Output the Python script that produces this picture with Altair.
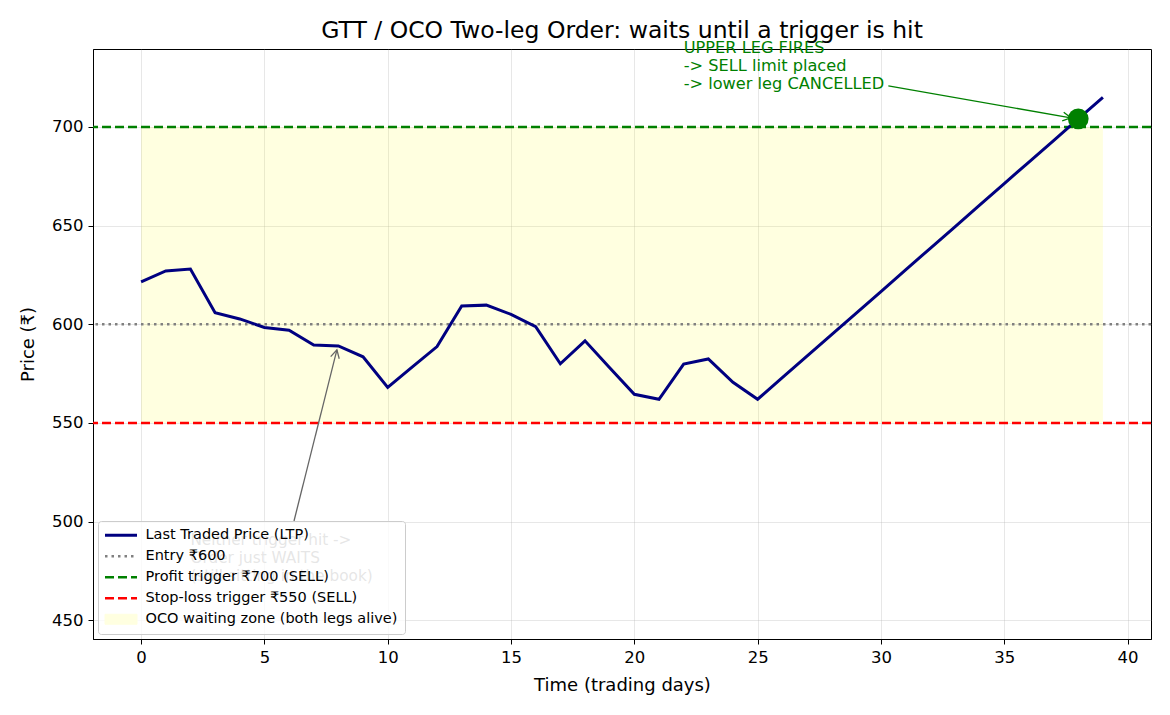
import math
import altair as alt
import pandas as pd
from altair.vegalite.v6.schema import core as vl_core

# ---------------- data ----------------
days = list(range(40))
ltp = [621.5, 627.0, 628.0, 605.9, 602.7, 598.4, 597.0, 589.5, 589.0, 583.5,
       568.0, 578.4, 588.7, 609.3, 609.7, 605.0, 598.8, 580.0, 591.6, 578.0,
       564.5, 562.0, 579.8, 582.4, 570.6, 562.0, 572.9, 583.9, 594.8, 605.7,
       616.6, 627.6, 638.5, 649.4, 660.4, 671.3, 682.2, 693.1, 704.1, 715.0]

ENTRY, PROFIT, STOP = 600, 700, 550
zone_x = [0, 39]

LTP_L = "Last Traded Price (LTP)"
ENTRY_L = "Entry ₹600"
PROF_L = "Profit trigger ₹700 (SELL)"
STOP_L = "Stop-loss trigger ₹550 (SELL)"
ZONE_L = "OCO waiting zone (both legs alive)"
labels = [LTP_L, ENTRY_L, PROF_L, STOP_L, ZONE_L]
colors = ["#000080", "#808080", "#008000", "#ff0000", "#ffffe0"]

fire_day, fire_price = 38, 704.1

# annotation: upper leg fires
up_text = "UPPER LEG FIRES\n-> SELL limit placed\n-> lower leg CANCELLED"
up_text_xy = (22.0, 737.5)
up_arrow_from = (30.3, 720.8)
up_arrow_to = (37.7, 704.6)

# annotation: waiting
wait_text = "Neither trigger hit ->\nOrder just WAITS\n(still sitting in the book)"
wait_text_xy = (2.0, 488.2)
wait_arrow_from = (6.2, 500.3)
wait_arrow_to = (7.94, 587.0)

# ---------------- layout ----------------
W, H = 1058, 590
X_DOM = [-1.95, 40.95]
Y_DOM = [440.5, 739.5]
FONT = "DejaVu Sans"

# allow Vega-Lite's (schema-hidden) legend "encoding" property
vl_core.VegaLiteSchema._rootschema["definitions"]["Legend"]["properties"]["encoding"] = {"type": "object"}


def px_angle(p0, p1):
    dx = (p1[0] - p0[0]) * W / (X_DOM[1] - X_DOM[0])
    dy = -(p1[1] - p0[1]) * H / (Y_DOM[1] - Y_DOM[0])
    return math.degrees(math.atan2(dy, dx)) % 360


xs = alt.Scale(domain=X_DOM, nice=False, zero=False)
ys = alt.Scale(domain=Y_DOM, nice=False, zero=False)
cscale = alt.Scale(domain=labels, range=colors)


def cond_expr(mapping, default):
    expr = default
    for k, v in reversed(list(mapping.items())):
        expr = f"datum.value === '{k}' ? {v} : ({expr})"
    return expr


sig_shape = cond_expr({ZONE_L: "'M-3.2,-1H3.2V1H-3.2Z'"}, "'M-3.2,0H3.2'")
sig_dash = cond_expr({ENTRY_L: "[2.5,4]", PROF_L: "[9,4]", STOP_L: "[9,4]"}, "[]")
sig_fill = cond_expr({ZONE_L: "'#ffffe0'"}, "'transparent'")
sig_stroke = cond_expr({LTP_L: "'#000080'", ENTRY_L: "'#808080'", PROF_L: "'#008000'",
                        STOP_L: "'#ff0000'", ZONE_L: "'#ffffe0'"}, "'black'")
sig_sw = cond_expr({LTP_L: "3", ZONE_L: "1"}, "2.5")

symbol_encoding = {
    "shape": {"value": {"signal": sig_shape}},
    "strokeDash": {"value": {"signal": sig_dash}},
    "fill": {"value": {"signal": sig_fill}},
    "stroke": {"value": {"signal": sig_stroke}},
    "strokeWidth": {"value": {"signal": sig_sw}},
    "opacity": {"value": 1},
    "fillOpacity": {"value": 1},
    "strokeOpacity": {"value": 1},
    "x": {"value": 16},
}

legend = alt.Legend(
    title=None, orient="none", legendX=5, legendY=472, zindex=1,
    fillColor="rgba(255,255,255,0.8)", strokeColor="#cccccc", cornerRadius=3,
    padding=7, labelFont=FONT, labelFontSize=14.5, labelColor="black", labelLimit=400,
    symbolSize=100, labelOffset=26, rowPadding=6, symbolType="stroke",
    encoding={"symbols": symbol_encoding},
)
color_enc = alt.Color("series:N", scale=cscale, legend=legend)

xaxis = alt.Axis(values=list(range(0, 41, 5)), title="Time (trading days)", format="d",
                 titlePadding=11)
yaxis = alt.Axis(values=list(range(450, 701, 50)), title="Price (₹)", titlePadding=14)

# zone (drawn translucent so the grid shows through, as in the original)
zone_df = pd.DataFrame({"x": [zone_x[0]], "x2": [zone_x[1]], "y": [STOP], "y2": [PROFIT]})
zone = alt.Chart(zone_df).mark_rect(opacity=0.12, color="#ffff00").encode(
    x=alt.X("x:Q", scale=xs, axis=xaxis), x2="x2:Q",
    y=alt.Y("y:Q", scale=ys, axis=yaxis), y2="y2:Q",
)

entry = alt.Chart(pd.DataFrame({"y": [ENTRY], "series": [ENTRY_L]})).mark_rule(
    strokeWidth=2.5, strokeDash=[2.5, 4]).encode(y=alt.Y("y:Q", scale=ys), color=color_enc)
prof = alt.Chart(pd.DataFrame({"y": [PROFIT], "series": [PROF_L]})).mark_rule(
    strokeWidth=2.5, strokeDash=[9, 4]).encode(y=alt.Y("y:Q", scale=ys), color=color_enc)
stop = alt.Chart(pd.DataFrame({"y": [STOP], "series": [STOP_L]})).mark_rule(
    strokeWidth=2.5, strokeDash=[9, 4]).encode(y=alt.Y("y:Q", scale=ys), color=color_enc)

line_df = pd.DataFrame({"day": days, "price": ltp, "series": [LTP_L] * len(days)})
line = alt.Chart(line_df).mark_line(strokeWidth=3).encode(
    x=alt.X("day:Q", scale=xs), y=alt.Y("price:Q", scale=ys), color=color_enc)

marker = alt.Chart(pd.DataFrame({"x": [fire_day], "y": [fire_price]})).mark_circle(
    size=430, opacity=1, color="#008000").encode(
    x=alt.X("x:Q", scale=xs), y=alt.Y("y:Q", scale=ys))

arrows_df = pd.DataFrame({
    "x": [up_arrow_from[0], wait_arrow_from[0]],
    "y": [up_arrow_from[1], wait_arrow_from[1]],
    "x2": [up_arrow_to[0], wait_arrow_to[0]],
    "y2": [up_arrow_to[1], wait_arrow_to[1]],
    "col": ["#008000", "#666666"],
    "angle": [px_angle(up_arrow_from, up_arrow_to), px_angle(wait_arrow_from, wait_arrow_to)],
})
arrow_lines = alt.Chart(arrows_df).mark_rule(strokeWidth=1.3).encode(
    x=alt.X("x:Q", scale=xs), y=alt.Y("y:Q", scale=ys), x2="x2:Q", y2="y2:Q",
    color=alt.Color("col:N", scale=None))
arrow_heads = alt.Chart(arrows_df).mark_point(
    shape="M-1,-0.55L0,0L-1,0.55", filled=False, strokeWidth=1.3, size=256, opacity=1).encode(
    x=alt.X("x2:Q", scale=xs), y=alt.Y("y2:Q", scale=ys),
    angle=alt.Angle("angle:Q", scale=None),
    color=alt.Color("col:N", scale=None))

texts_df = pd.DataFrame({
    "x": [up_text_xy[0], wait_text_xy[0]],
    "y": [up_text_xy[1], wait_text_xy[1]],
    "t": [up_text, wait_text],
    "col": ["#008000", "#808080"],
    "fs": [16.2, 15.3],
})
texts = alt.Chart(texts_df).mark_text(
    align="left", baseline="alphabetic", lineBreak="\n", lineHeight=18, font=FONT).encode(
    x=alt.X("x:Q", scale=xs), y=alt.Y("y:Q", scale=ys), text="t:N",
    color=alt.Color("col:N", scale=None),
    size=alt.Size("fs:Q", scale=None, legend=None))

chart = alt.layer(zone, entry, prof, stop, texts, arrow_lines, arrow_heads, line, marker).properties(
    width=W, height=H,
    background="white",
    title=alt.TitleParams("GTT / OCO Two-leg Order: waits until a trigger is hit",
                          fontSize=23.5, font=FONT, fontWeight="normal", color="black",
                          anchor="middle", offset=-3),
    autosize=alt.AutoSizeParams(type="none"),
    padding={"left": 93, "top": 49, "right": 19, "bottom": 76},
).configure_axis(
    domainColor="black", tickColor="black", labelColor="black", titleColor="black",
    gridColor="#b0b0b0", gridOpacity=0.3, gridWidth=1, tickSize=5, labelPadding=5,
    labelFont=FONT, titleFont=FONT, labelFontSize=16.5, titleFontSize=18,
    titleFontWeight="normal", domainWidth=1,
).configure_view(stroke="black", strokeWidth=1)

chart.save("out.html", embed_options={"renderer": "svg", "actions": False})
